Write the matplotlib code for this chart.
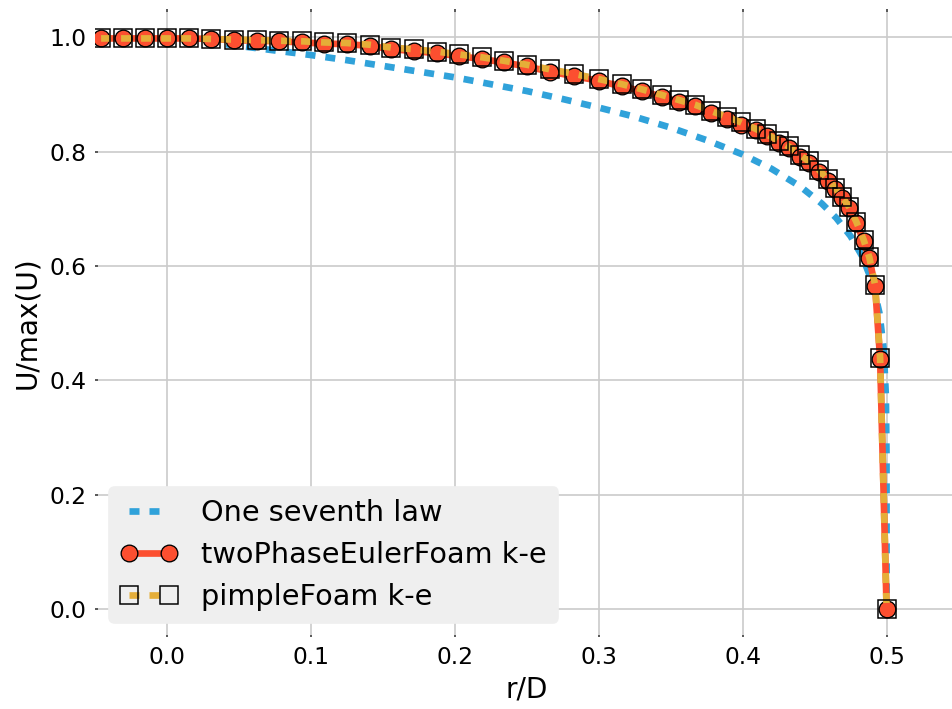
"""Pipe flow velocity profile: one seventh law vs two OpenFOAM solvers."""

import matplotlib
matplotlib.use("Agg")
import matplotlib.pyplot as plt

plt.rcParams.update({
    "font.family": "DejaVu Sans",
    "font.size": 14,
    "axes.labelsize": 16.8,
    "legend.fontsize": 17.28,
})

# one seventh power law
law_r = [0.0, 0.025, 0.05, 0.075, 0.1, 0.125, 0.15, 0.175, 0.2, 0.225, 0.25,
         0.275, 0.3, 0.325, 0.35, 0.375, 0.4, 0.42, 0.44, 0.455, 0.465, 0.475,
         0.483, 0.49, 0.495, 0.498, 0.4995, 0.49995, 0.5]
law_u = [1.0, 0.993, 0.985, 0.977, 0.969, 0.960, 0.950, 0.940, 0.930, 0.918,
         0.906, 0.892, 0.877, 0.861, 0.842, 0.820, 0.795, 0.770, 0.739, 0.709,
         0.684, 0.652, 0.617, 0.572, 0.518, 0.454, 0.373, 0.268, 0.0]

# sampled r/D positions (shared by both solvers)
sample_r = [-0.0455, -0.030, -0.015, 0.000, 0.0156, 0.031, 0.047, 0.0625,
            0.078, 0.094, 0.109, 0.125, 0.141, 0.156, 0.172, 0.1875, 0.203,
            0.219, 0.234, 0.250, 0.266, 0.283, 0.300, 0.316, 0.330, 0.344,
            0.356, 0.367, 0.378, 0.389, 0.399, 0.409, 0.417, 0.425, 0.432,
            0.440, 0.446, 0.453, 0.459, 0.464, 0.469, 0.474, 0.479, 0.484,
            0.488, 0.492, 0.4955, 0.500]

euler_u = [0.998, 0.998, 0.998, 0.998, 0.998, 0.997, 0.995, 0.994, 0.993,
           0.991, 0.989, 0.988, 0.985, 0.979, 0.976, 0.972, 0.967, 0.962,
           0.956, 0.949, 0.940, 0.932, 0.924, 0.914, 0.906, 0.896, 0.887,
           0.879, 0.867, 0.857, 0.847, 0.837, 0.827, 0.815, 0.806, 0.790,
           0.780, 0.765, 0.749, 0.734, 0.718, 0.701, 0.675, 0.644, 0.613,
           0.565, 0.437, 0.0]

pimple_u = [0.998, 0.998, 0.998, 0.998, 0.998, 0.997, 0.996, 0.995, 0.994,
            0.993, 0.991, 0.990, 0.987, 0.982, 0.979, 0.975, 0.970, 0.965,
            0.959, 0.952, 0.944, 0.936, 0.927, 0.918, 0.909, 0.899, 0.890,
            0.882, 0.871, 0.861, 0.851, 0.840, 0.830, 0.819, 0.809, 0.794,
            0.783, 0.768, 0.752, 0.737, 0.721, 0.703, 0.677, 0.646, 0.615,
            0.567, 0.439, 0.0]

BLUE = "#30a2da"
RED = "#fc4f30"
YELLOW = "#e5ae38"


def main():
    fig = plt.figure(figsize=(952 / 120, 709 / 120), dpi=120, facecolor="white")
    ax = fig.add_axes([94.6 / 952, 71.6 / 709, 864 / 952, 628.7 / 709])
    ax.set_facecolor("white")
    for s in ax.spines.values():
        s.set_visible(False)

    ax.plot(law_r, law_u, color=BLUE, lw=4, dashes=(1.5, 1.5),
            label="One seventh law")
    ax.plot(sample_r, euler_u, color=RED, lw=4, marker="o", ms=10,
            mfc=RED, mec="black", mew=0.8, label="twoPhaseEulerFoam k-e")
    ax.plot(sample_r, pimple_u, color=YELLOW, lw=4, dashes=(1.5, 1.5),
            marker="s", ms=11, mfc="none", mec="black", mew=0.9,
            label="pimpleFoam k-e")

    ax.set_xlim(-0.05, 0.55)
    ax.set_ylim(-0.05, 1.05)
    ax.set_xticks([0.0, 0.1, 0.2, 0.3, 0.4, 0.5])
    ax.set_yticks([0.0, 0.2, 0.4, 0.6, 0.8, 1.0])
    ax.grid(True, color="#cbcbcb", lw=1.0)
    ax.set_axisbelow(True)
    ax.tick_params(direction="in", length=1.5, width=1, color="#444444",
                   top=True, right=True, pad=5)
    ax.set_xlabel("r/D")
    ax.set_ylabel("U/max(U)", labelpad=5)

    leg = ax.legend(loc="lower left", numpoints=2, fancybox=True,
                    facecolor="#efefef", edgecolor="#efefef", framealpha=1.0)

    fig.savefig("out.png", dpi=120, facecolor="white")
    plt.close(fig)


if __name__ == "__main__":
    main()
